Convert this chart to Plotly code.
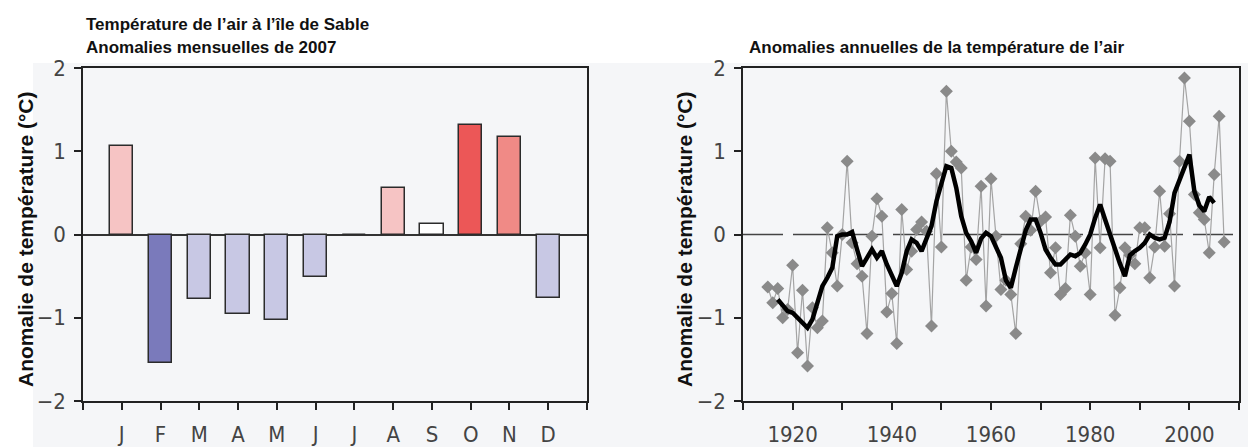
import plotly.graph_objects as go

# ---- Monthly anomalies, 2007 (°C) ----
month_labels = ["J", "F", "M", "A", "M", "J", "J", "A", "S", "O", "N", "D"]
month_pos = [1, 2, 3, 4, 5, 6, 7, 8, 9, 10, 11, 12]
monthly_anom = [1.06, -1.54, -0.78, -0.95, -1.03, -0.51, 0.0, 0.56, 0.13, 1.31, 1.17, -0.76]
bar_colors = ["#f6c4c4", "#7a7abb", "#c8c8e4", "#c8c8e4", "#c8c8e4", "#c8c8e4",
              "#ffffff", "#f6c4c4", "#ffffff", "#ec5757", "#f08a86", "#c8c8e4"]

# ---- Annual anomalies (°C), 1915-2007 ----
years = list(range(1915, 2008))
annual_anom = [
    -0.63, -0.82, -0.65, -1.00, -0.90,                                  # 1915-1919
    -0.37, -1.42, -0.67, -1.58, -0.88, -1.12, -1.04, 0.08, -0.22, -0.62,  # 1920s
    0.00, 0.88, -0.10, -0.35, -0.50, -1.19, -0.02, 0.43, 0.22, -0.93,     # 1930s
    -0.71, -1.31, 0.30, -0.42, -0.20, 0.06, 0.15, 0.04, -1.10, 0.73,      # 1940s
    -0.15, 1.72, 1.00, 0.87, 0.80, -0.55, -0.15, -0.30, 0.58, -0.86,      # 1950s
    0.67, -0.02, -0.66, -0.55, -0.72, -1.19, -0.11, 0.22, 0.05, 0.52,     # 1960s
    0.16, 0.21, -0.46, -0.16, -0.72, -0.65, 0.23, -0.02, -0.38, -0.22,    # 1970s
    -0.72, 0.92, -0.16, 0.91, 0.88, -0.97, -0.64, -0.16, -0.25, -0.35,    # 1980s
    0.08, 0.08, -0.52, -0.15, 0.52, -0.14, 0.25, -0.62, 0.88, 1.88,       # 1990s
    1.36, 0.48, 0.26, 0.18, -0.22, 0.72, 1.42, -0.09,                     # 2000-2007
]

# ---- Smoothed anomaly curve, 1917-2005 ----
smooth_years = list(range(1917, 2006))
smooth_anom = [
    -0.78, -0.85, -0.92,                                                   # 1917-1919
    -0.94, -1.00, -1.06, -1.12, -1.02, -0.82, -0.62, -0.52, -0.40, -0.02,  # 1920s
    0.00, 0.00, 0.03, -0.18, -0.38, -0.28, -0.18, -0.28, -0.20, -0.36,     # 1930s
    -0.50, -0.62, -0.46, -0.20, -0.06, -0.10, -0.20, -0.06, 0.10, 0.40,    # 1940s
    0.62, 0.82, 0.80, 0.56, 0.22, 0.02, -0.08, -0.22, -0.05, 0.02,         # 1950s
    -0.02, -0.15, -0.28, -0.55, -0.64, -0.40, -0.15, 0.05, 0.18, 0.18,     # 1960s
    0.02, -0.18, -0.28, -0.36, -0.36, -0.30, -0.24, -0.26, -0.22, -0.12,   # 1970s
    0.00, 0.20, 0.36, 0.18, 0.00, -0.20, -0.35, -0.50, -0.25, -0.20,       # 1980s
    -0.16, -0.10, 0.00, -0.04, -0.06, -0.04, 0.15, 0.50, 0.65, 0.80,       # 1990s
    0.96, 0.52, 0.35, 0.28, 0.45, 0.38,                                    # 2000-2005
]

year_ticks = list(range(1910, 2011, 10))
year_ticktext = ["", "1920", "", "1940", "", "1960", "", "1980", "", "2000", ""]
y_ticks = [-2, -1, 0, 1, 2]

W, H = 1248, 447
AXIS = "#222222"
TICK_FONT = dict(family="Liberation Sans Narrow, Arial Narrow, DejaVu Sans Condensed, sans-serif",
                 size=22, color="#444444")
TITLE_FONT = dict(family="Liberation Sans, Arial, sans-serif", size=17, color="#111111")
YTITLE_FONT = dict(family="Liberation Sans, Arial, sans-serif", size=21, color="#111111")


def px_x(p):
    return p / W


def px_y(p):
    return 1 - p / H


fig = go.Figure()

fig.add_trace(go.Bar(
    x=month_pos, y=monthly_anom, width=0.6,
    marker=dict(color=bar_colors, line=dict(color="#2b2b2b", width=1.5)),
    xaxis="x", yaxis="y", showlegend=False,
))

fig.add_trace(go.Scatter(
    x=years, y=annual_anom, mode="lines+markers",
    line=dict(color="#a4a4a4", width=1.2),
    marker=dict(symbol="diamond", size=10, color="#8a8a8a"),
    xaxis="x2", yaxis="y2", showlegend=False,
))

fig.add_trace(go.Scatter(
    x=smooth_years, y=smooth_anom, mode="lines",
    line=dict(color="#000000", width=4.5),
    xaxis="x2", yaxis="y2", showlegend=False,
))

y_dom = [px_y(401), px_y(68)]
common_axis = dict(
    showline=True, linecolor=AXIS, linewidth=1.5, mirror=True,
    ticks="outside", ticklen=7, tickwidth=1.5, tickcolor=AXIS,
    showgrid=False, tickfont=TICK_FONT, automargin=False, fixedrange=True,
)

fig.update_layout(
    width=W, height=H,
    margin=dict(l=0, r=0, t=0, b=0),
    paper_bgcolor="#ffffff", plot_bgcolor="rgba(0,0,0,0)",
    bargap=0,
    xaxis=dict(domain=[px_x(83), px_x(587)], range=[0, 13], anchor="y",
               tickmode="array", tickvals=list(range(0, 14)),
               ticktext=[""] + month_labels + [""], zeroline=False,
               ticklabelstandoff=6, **common_axis),
    yaxis=dict(domain=y_dom, range=[-2, 2], anchor="x",
               tickmode="array", tickvals=y_ticks,
               zeroline=True, zerolinecolor="#333333", zerolinewidth=1.5,
               ticklabelstandoff=4, **common_axis),
    xaxis2=dict(domain=[px_x(743), px_x(1239)], range=[1910, 2010], anchor="y2",
                tickmode="array", tickvals=year_ticks, ticktext=year_ticktext,
                zeroline=False, ticklabelstandoff=6, **common_axis),
    yaxis2=dict(domain=y_dom, range=[-2, 2], anchor="x2",
                tickmode="array", tickvals=y_ticks, zeroline=False,
                ticklabelstandoff=4, **common_axis),
    shapes=[
        # light grey panel behind both charts
        dict(type="rect", xref="paper", yref="paper",
             x0=px_x(33), x1=1, y0=0, y1=px_y(63),
             fillcolor="#f5f6f8", line=dict(width=0), layer="below"),
        # dashed reference line at zero on the annual chart
        dict(type="line", xref="x2", yref="y2", x0=1910, x1=2010, y0=0, y1=0,
             line=dict(color="#444444", width=1.5, dash="40px,10px"), layer="below"),
    ],
    annotations=[
        dict(text="<b>Température de l’air à l’île de Sable</b>", xref="paper", yref="paper",
             x=px_x(84), y=px_y(24), xanchor="left", yanchor="middle",
             showarrow=False, font=TITLE_FONT),
        dict(text="<b>Anomalies mensuelles de 2007</b>", xref="paper", yref="paper",
             x=px_x(84), y=px_y(47), xanchor="left", yanchor="middle",
             showarrow=False, font=TITLE_FONT),
        dict(text="<b>Anomalies annuelles de la température de l’air</b>", xref="paper", yref="paper",
             x=px_x(747), y=px_y(47), xanchor="left", yanchor="middle",
             showarrow=False, font=TITLE_FONT),
        dict(text="<b>Anomalie de température (°C)</b>", xref="paper", yref="paper",
             x=px_x(25), y=px_y(240), xanchor="center", yanchor="middle", textangle=-90,
             showarrow=False, font=YTITLE_FONT),
        dict(text="<b>Anomalie de température (°C)</b>", xref="paper", yref="paper",
             x=px_x(684), y=px_y(240), xanchor="center", yanchor="middle", textangle=-90,
             showarrow=False, font=YTITLE_FONT),
    ],
)

fig.write_html("out.html")
